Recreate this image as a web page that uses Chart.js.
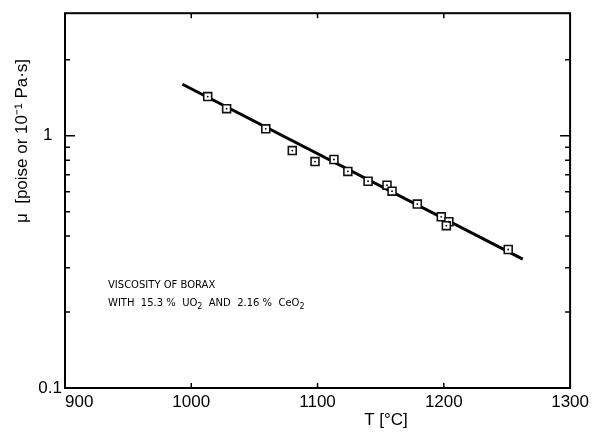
<!DOCTYPE html>
<html>
<head>
<meta charset="utf-8">
<style>
  html, body { margin: 0; padding: 0; background: #fff; }
  #wrap { width: 593px; height: 432px; position: relative; }
</style>
<script src="https://cdn.jsdelivr.net/npm/chart.js@4.4.0/dist/chart.umd.min.js"></script>
</head>
<body>
<div id="wrap"><canvas id="c" width="593" height="432"></canvas></div>
<script>
// ---- data ----
const temperatures = [1013, 1028, 1059, 1080, 1098, 1113, 1124, 1140, 1155, 1159, 1179, 1198, 1204, 1202, 1251];
const viscosity    = [1.43, 1.28, 1.065, 0.873, 0.79, 0.805, 0.722, 0.66, 0.637, 0.603, 0.536, 0.477, 0.456, 0.44, 0.354];
const fitT  = [993, 1262.5];
const fitMu = [1.6, 0.324];
const xTickValues = [900, 1000, 1100, 1200, 1300];
const yTickLabels = [0.1, 1];
const yMinorTicks = [0.2, 0.3, 0.4, 0.5, 0.6, 0.7, 0.8, 0.9, 2];
const xInnerTicks = [1000, 1100, 1200];
const xTitle = 'T [°C]';
const yTitle = 'μ  [poise or 10⁻¹ Pa·s]';
const noteLine1 = 'VISCOSITY OF BORAX';

const FONT = "'Liberation Sans Narrow', 'Liberation Sans', Arial, sans-serif";

const pts = temperatures.map((t, i) => ({ x: t, y: viscosity[i] }));
const fitPts = fitT.map((t, i) => ({ x: t, y: fitMu[i] }));

const framePlugin = {
  id: 'frame',
  afterDraw(chart) {
    const { ctx, chartArea: a, scales: { x, y } } = chart;
    ctx.save();
    ctx.strokeStyle = '#000';
    ctx.lineWidth = 2;
    ctx.strokeRect(a.left, a.top, a.right - a.left, a.bottom - a.top);
    ctx.lineWidth = 1.5;
    ctx.beginPath();
    xInnerTicks.forEach(v => {
      const px = x.getPixelForValue(v);
      ctx.moveTo(px, a.bottom); ctx.lineTo(px, a.bottom - 5);
      ctx.moveTo(px, a.top); ctx.lineTo(px, a.top + 5);
    });
    yTickLabels.forEach(v => {
      const py = y.getPixelForValue(v);
      ctx.moveTo(a.left, py); ctx.lineTo(a.left + 10, py);
      ctx.moveTo(a.right, py); ctx.lineTo(a.right - 10, py);
    });
    yMinorTicks.forEach(v => {
      const py = y.getPixelForValue(v);
      ctx.moveTo(a.left, py); ctx.lineTo(a.left + 5, py);
      ctx.moveTo(a.right, py); ctx.lineTo(a.right - 5, py);
    });
    ctx.stroke();

    ctx.fillStyle = '#000';
    // x title
    ctx.font = "17px " + FONT;
    ctx.textAlign = 'center';
    ctx.textBaseline = 'middle';
    ctx.fillText(xTitle, 386, 420);
    // y title
    ctx.save();
    ctx.translate(22, 141);
    ctx.rotate(-Math.PI / 2);
    ctx.font = "17px " + FONT;
    ctx.fillText(yTitle, 0, 0);
    ctx.restore();

    // annotation
    ctx.textAlign = 'left';
    ctx.textBaseline = 'alphabetic';
    ctx.font = "10px 'DejaVu Sans', sans-serif";
    ctx.fillText(noteLine1, 108, 288);
    let cx = 108;
    const base = 306;
    const parts = [['WITH  15.3 %  UO', 0], ['2', 1], ['  AND  2.16 %  CeO', 0], ['2', 1]];
    parts.forEach(([txt, sub]) => {
      ctx.font = sub ? "8px 'DejaVu Sans', sans-serif" : "10px 'DejaVu Sans', sans-serif";
      ctx.fillText(txt, cx, sub ? base + 3 : base);
      cx += ctx.measureText(txt).width;
    });
    ctx.restore();
  }
};

new Chart(document.getElementById('c'), {
  type: 'scatter',
  data: {
    datasets: [
      {
        label: 'fit', data: fitPts, showLine: true, borderColor: '#000', borderWidth: 3,
        pointRadius: 0, order: 3
      },
      {
        label: 'measured', data: pts, showLine: false, pointStyle: 'rect', pointRadius: 5.6,
        pointBackgroundColor: '#fff', pointBorderColor: '#111', pointBorderWidth: 1.6, order: 2
      },
      {
        label: 'centre', data: pts, showLine: false, pointStyle: 'circle', pointRadius: 0.9,
        pointBackgroundColor: '#000', pointBorderColor: '#000', pointBorderWidth: 0, order: 1
      }
    ]
  },
  options: {
    responsive: false,
    animation: false,
    layout: { padding: { top: 9, right: 16, left: 0, bottom: 0 } },
    plugins: { legend: { display: false }, tooltip: { enabled: false } },
    scales: {
      x: {
        type: 'linear', min: 900, max: 1300,
        afterBuildTicks: s => { s.ticks = xTickValues.map(v => ({ value: v })); },
        afterFit: s => { s.height = 44; },
        grid: { display: false, drawTicks: false },
        border: { display: false },
        ticks: {
          padding: 4, color: '#000', maxRotation: 0, autoSkip: false,
          font: { family: FONT, size: 17 },
          callback: v => (v === 900 ? '      900' : String(v))
        }
      },
      y: {
        type: 'logarithmic', min: 0.1, max: 3.06,
        afterBuildTicks: s => { s.ticks = yTickLabels.map(v => ({ value: v })); },
        afterFit: s => { s.width = 65; },
        grid: { display: false, drawTicks: false },
        border: { display: false },
        ticks: {
          padding: 3, color: '#000', autoSkip: false,
          font: { family: FONT, size: 17 },
          callback: v => (v === 1 ? '1  ' : String(v))
        }
      }
    }
  },
  plugins: [framePlugin]
});
</script>
</body>
</html>
